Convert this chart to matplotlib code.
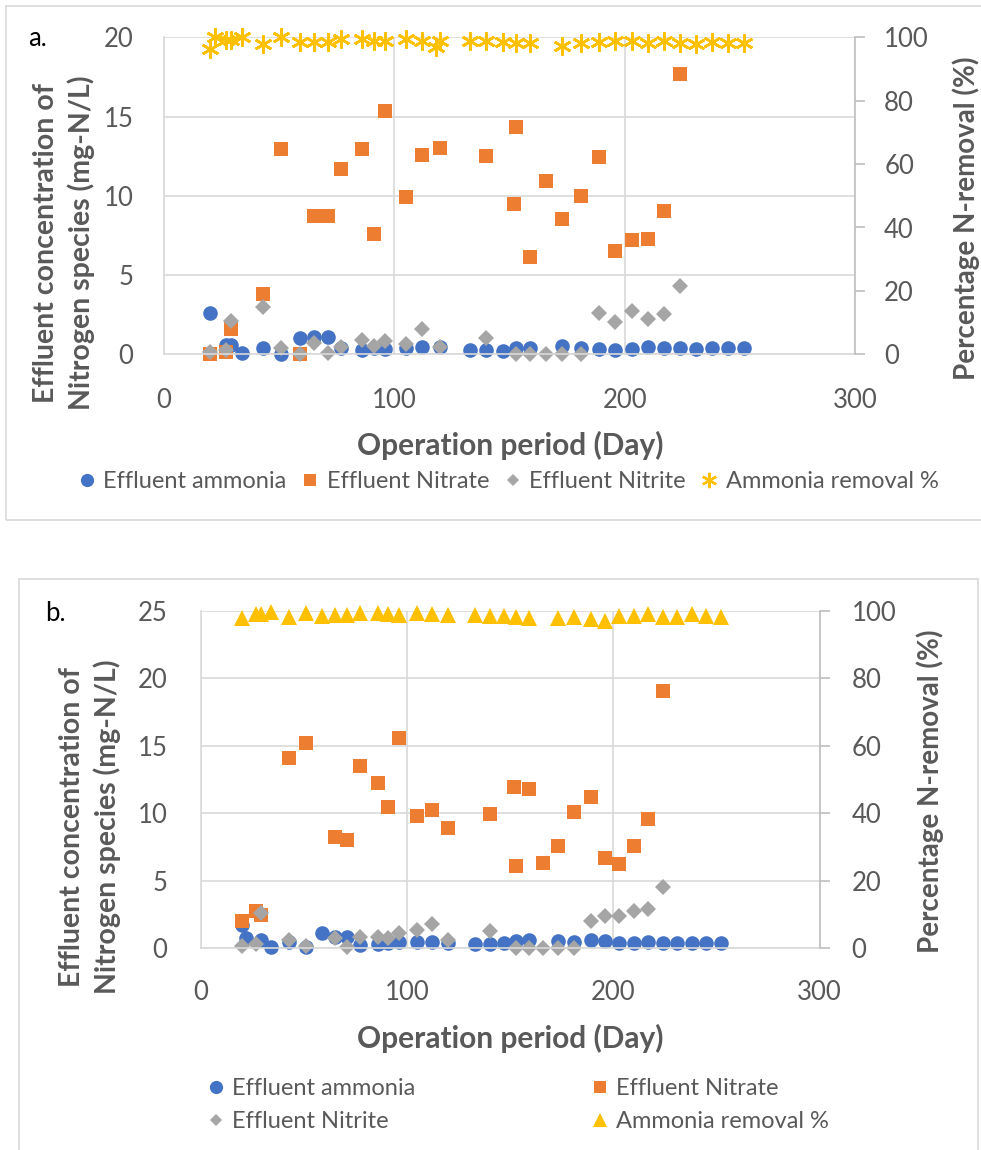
import matplotlib
matplotlib.use("Agg")
import matplotlib.pyplot as plt
from matplotlib.patches import Rectangle
from matplotlib.lines import Line2D

plt.rcParams['font.family'] = ['Lato', 'DejaVu Sans']

# ---- panel a data ----
amm_a_day = [20, 27, 29, 34, 43, 51, 59, 65, 71, 77, 86, 91, 96, 105, 112, 120, 133, 140, 147,
             153, 159, 173, 181, 189, 196, 203, 210, 217, 224, 231, 238, 245, 252]
amm_a = [2.6, 0.6, 0.6, 0.06, 0.4, 0.0, 1.05, 1.1, 1.1, 0.38, 0.3, 0.38, 0.35, 0.38, 0.45, 0.45, 0.3, 0.3, 0.2,
         0.4, 0.4, 0.52, 0.38, 0.35, 0.3, 0.35, 0.45, 0.4, 0.4, 0.35, 0.4, 0.4, 0.4]

no3_a_day = [20, 27, 29, 43, 51, 59, 65, 71, 77, 86, 91, 96, 105, 112, 120, 140, 152, 153, 159, 166,
             173, 181, 189, 196, 203, 210, 217, 224]
no3_a = [0.0, 0.17, 1.58, 3.78, 12.97, 0.0, 8.72, 8.72, 11.67, 12.97, 7.57, 15.33, 9.9, 12.55, 13.0, 12.51,
         9.46, 14.36, 6.16, 10.95, 8.51, 10.0, 12.47, 6.52, 7.21, 7.29, 9.06, 17.67]

no2_a_day = [20, 27, 29, 43, 51, 59, 65, 71, 77, 86, 91, 96, 105, 112, 120, 140, 153, 159, 166, 173,
             181, 189, 196, 203, 210, 217, 224]
no2_a = [0.12, 0.27, 2.12, 3.0, 0.38, 0.0, 0.73, 0.06, 0.45, 0.9, 0.54, 0.84, 0.63, 1.6, 0.45, 1.0, 0.0, 0.0,
         0.0, 0.0, 0.0, 2.63, 2.02, 2.73, 2.23, 2.52, 4.33]

rem_a_day = [20, 22, 27, 29, 34, 43, 51, 59, 65, 71, 77, 86, 91, 96, 105, 112, 118, 120, 133, 140, 147,
             153, 159, 173, 181, 189, 196, 203, 210, 217, 224, 231, 238, 245, 252]
rem_a = [96.2, 100, 99.2, 99.2, 100, 97.8, 100, 98.4, 98.4, 98.4, 99.5, 99.5, 98.9, 98.9, 99.5, 98.9, 97.0,
         98.9, 98.9, 98.7, 98.6, 98.1, 98.1, 97.3, 98.1, 98.6, 98.9, 98.9, 98.1, 98.9, 98.1, 97.9, 98.6,
         98.1, 98.1]

# ---- panel b data ----
amm_b_day = [20, 22, 29, 34, 43, 51, 59, 65, 71, 77, 86, 91, 96, 105, 112, 120, 133, 140, 147, 153,
             159, 173, 181, 189, 196, 203, 210, 217, 224, 231, 238, 245, 252]
amm_b = [1.75, 0.74, 0.6, 0.07, 0.49, 0.07, 1.11, 0.86, 0.86, 0.25, 0.32, 0.37, 0.44, 0.49, 0.49, 0.42,
         0.32, 0.32, 0.37, 0.56, 0.61, 0.56, 0.49, 0.61, 0.56, 0.37, 0.37, 0.49, 0.42, 0.37, 0.37, 0.42, 0.42]

no3_b_day = [20, 27, 29, 43, 51, 65, 71, 77, 86, 91, 96, 105, 112, 120, 140, 152, 153, 159, 166, 173,
             181, 189, 196, 203, 210, 217, 224]
no3_b = [2.02, 2.76, 2.47, 14.07, 15.18, 8.27, 8.02, 13.53, 12.27, 10.49, 15.6, 9.82, 10.24, 8.89, 9.92,
         11.97, 6.1, 11.78, 6.34, 7.6, 10.12, 11.23, 6.67, 6.24, 7.6, 9.6, 19.06]

no2_b_day = [20, 27, 29, 43, 51, 65, 71, 77, 86, 91, 96, 105, 112, 120, 140, 153, 159, 166, 173, 181,
             189, 196, 203, 210, 217, 224]
no2_b = [0.17, 0.32, 2.59, 0.61, 0.17, 0.79, 0.1, 0.86, 0.86, 0.74, 1.11, 1.36, 1.78, 0.61, 1.31, 0.0, 0.0,
         0.0, 0.0, 0.0, 2.05, 2.39, 2.39, 2.76, 2.89, 4.56]

rem_b_day = [20, 27, 29, 34, 43, 51, 59, 65, 71, 77, 86, 91, 96, 105, 112, 120, 133, 140, 147, 153,
             159, 173, 181, 189, 196, 203, 210, 217, 224, 231, 238, 245, 252]
rem_b = [97.7, 98.9, 98.9, 99.7, 98.0, 99.4, 98.4, 98.7, 98.7, 99.4, 99.4, 98.9, 98.7, 99.2, 98.9, 98.7,
         98.7, 98.4, 98.4, 98.0, 97.7, 97.7, 98.2, 97.5, 97.0, 98.4, 98.5, 98.9, 98.2, 98.0, 99.0, 98.4, 98.2]

labels = ['Effluent ammonia', 'Effluent Nitrate', 'Effluent Nitrite', 'Ammonia removal %']

BLUE, ORANGE, GREY, YELLOW = '#4472C4', '#ED7D31', '#A5A5A5', '#FFC000'
TXT = '#595959'
GRID = '#d9d9d9'

W, H = 981, 1150
fig = plt.figure(figsize=(W / 100, H / 100), dpi=100)


def box(x0, y0, x1, y1):
    # pixel coords (top-left origin) -> figure fraction
    return [x0 / W, 1 - y1 / H, (x1 - x0) / W, (y1 - y0) / H]


def setup(ax, ax2, ymax, ystep, lpad, rpad, xpad):
    ax.set_xlim(0, 300)
    ax.set_ylim(0, ymax)
    ax2.set_ylim(0, 100)
    ax.set_xticks([0, 100, 200, 300])
    ax.set_yticks(range(0, ymax + 1, ystep))
    ax2.set_yticks(range(0, 101, 20))
    ax.set_axisbelow(True)
    ax.grid(True, color=GRID, lw=1.2)
    for s in ['top', 'right']:
        ax.spines[s].set_visible(False)
    for s in ['left', 'bottom']:
        ax.spines[s].set_color(GRID)
        ax.spines[s].set_linewidth(1.2)
    for s in ['top', 'left', 'bottom']:
        ax2.spines[s].set_visible(False)
    ax2.spines['right'].set_color('#bfbfbf')
    ax2.spines['right'].set_linewidth(1.2)
    ax.tick_params(axis='y', length=0, pad=lpad, labelsize=18.5, labelcolor=TXT)
    ax.tick_params(axis='x', length=0, pad=xpad, labelsize=18.5, labelcolor=TXT)
    ax2.tick_params(axis='y', length=7, width=1.2, color='#bfbfbf', pad=rpad, labelsize=18.5, labelcolor=TXT)


def draw(ax, ax2, star):
    ax.plot(cur['amm_day'], cur['amm'], 'o', color=BLUE, ms=10.5, mew=0, clip_on=False)
    ax.plot(cur['no3_day'], cur['no3'], 's', color=ORANGE, ms=10.5, mew=0, clip_on=False)
    ax.plot(cur['no2_day'], cur['no2'], 'D', color=GREY, ms=7.8, mew=0, clip_on=False)
    if star:
        ax2.plot(cur['rem_day'], cur['rem'], marker=(6, 2, 0), ls='none', color=YELLOW, ms=13,
                 mew=1.9, clip_on=False)
    else:
        ax2.plot(cur['rem_day'], cur['rem'], '^', color=YELLOW, ms=11.5, mew=0, clip_on=False)


# panel a
fig.add_artist(Rectangle((6 / W, 1 - 520 / H), 980 / W, 514 / H, transform=fig.transFigure,
                         fill=False, ec=GRID, lw=1.2))
ax_a = fig.add_axes(box(164, 37.3, 855, 354.3))
ax_a2 = ax_a.twinx()
setup(ax_a, ax_a2, 20, 5, 22, 14, 24)
cur = dict(amm_day=amm_a_day, amm=amm_a, no3_day=no3_a_day, no3=no3_a, no2_day=no2_a_day, no2=no2_a,
           rem_day=rem_a_day, rem=rem_a)
draw(ax_a, ax_a2, True)

fig.text(28 / W, 1 - 38 / H, 'a.', fontsize=18.5, color='black', va='center', ha='left')
fig.text(64 / W, 1 - 243 / H, 'Effluent concentration of\nNitrogen species (mg-N/L)', rotation=90,
         fontsize=20.5, fontweight='bold', color=TXT, ha='center', va='center', linespacing=1.4)
fig.text(966 / W, 1 - 218 / H, 'Percentage N-removal (%)', rotation=90, fontsize=20, fontweight='bold',
         color=TXT, ha='center', va='center')
fig.text(510 / W, 1 - 445 / H, 'Operation period (Day)', fontsize=21.5, fontweight='bold', color=TXT,
         ha='center', va='center')

h_a = [Line2D([], [], ls='none', marker='o', color=BLUE, ms=9.5, mew=0),
       Line2D([], [], ls='none', marker='s', color=ORANGE, ms=9, mew=0),
       Line2D([], [], ls='none', marker='D', color=GREY, ms=6.5, mew=0),
       Line2D([], [], ls='none', marker=(6, 2, 0), color=YELLOW, ms=11, mew=1.7)]
leg = fig.legend(h_a, labels, loc='center', bbox_to_anchor=(508 / W, 1 - 482 / H), ncol=4, frameon=False,
                 fontsize=17, handlelength=0.8, handletextpad=0.3, columnspacing=0.6)
for t in leg.get_texts():
    t.set_color(TXT)

# panel b
fig.add_artist(Rectangle((19 / W, 1 - 1152 / H), 959 / W, 573 / H, transform=fig.transFigure,
                         fill=False, ec=GRID, lw=1.2))
ax_b = fig.add_axes(box(200.7, 610.7, 819.6, 948.3))
ax_b2 = ax_b.twinx()
setup(ax_b, ax_b2, 25, 5, 24, 16, 23)
cur = dict(amm_day=amm_b_day, amm=amm_b, no3_day=no3_b_day, no3=no3_b, no2_day=no2_b_day, no2=no2_b,
           rem_day=rem_b_day, rem=rem_b)
draw(ax_b, ax_b2, False)

fig.text(45 / W, 1 - 613 / H, 'b.', fontsize=18.5, color='black', va='center', ha='left')
fig.text(90 / W, 1 - 827 / H, 'Effluent concentration of\nNitrogen species (mg-N/L)', rotation=90,
         fontsize=20.5, fontweight='bold', color=TXT, ha='center', va='center', linespacing=1.4)
fig.text(930 / W, 1 - 791 / H, 'Percentage N-removal (%)', rotation=90, fontsize=20, fontweight='bold',
         color=TXT, ha='center', va='center')
fig.text(510 / W, 1 - 1038 / H, 'Operation period (Day)', fontsize=21.5, fontweight='bold', color=TXT,
         ha='center', va='center')

h_b = [Line2D([], [], ls='none', marker='o', color=BLUE, ms=9.5, mew=0),
       Line2D([], [], ls='none', marker='s', color=ORANGE, ms=9, mew=0),
       Line2D([], [], ls='none', marker='D', color=GREY, ms=6.5, mew=0),
       Line2D([], [], ls='none', marker='^', color=YELLOW, ms=9.5, mew=0)]
# order so columns read: ammonia / nitrite  |  nitrate / removal
leg_b = fig.legend([h_b[0], h_b[2], h_b[1], h_b[3]], [labels[0], labels[2], labels[1], labels[3]],
                   loc='upper left', bbox_to_anchor=(185 / W, 1 - 1057 / H), ncol=2, frameon=False,
                   fontsize=17, handlelength=0.8, handletextpad=0.3, columnspacing=7.4, labelspacing=0.5)
for t in leg_b.get_texts():
    t.set_color(TXT)

fig.savefig('out.png', dpi=100)
